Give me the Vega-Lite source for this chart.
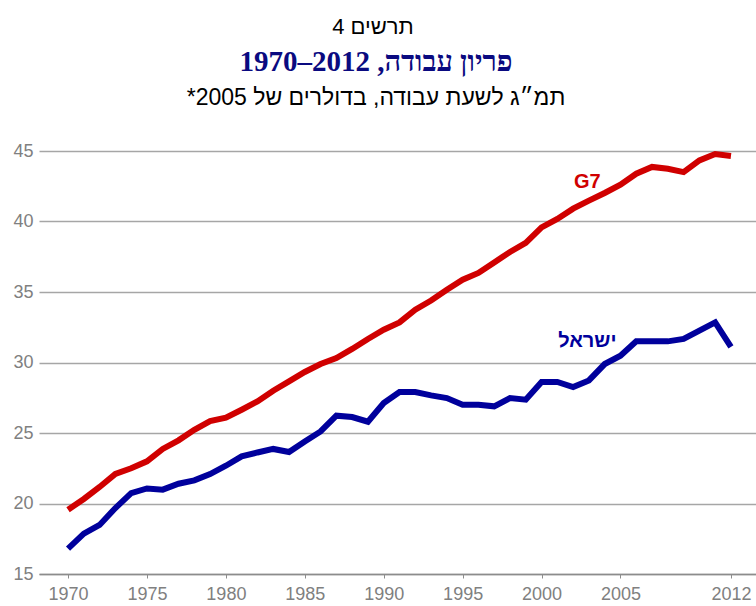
{
  "$schema": "https://vega.github.io/schema/vega-lite/v6.json",
  "padding": {"left": 12, "right": 0, "top": 15, "bottom": 0},
  "background": "white",
  "title": {
    "text": "תרשים 4",
    "font": "Liberation Sans",
    "fontSize": 22,
    "fontWeight": "normal",
    "color": "#000000",
    "anchor": "middle",
    "offset": 9,
    "dx": -12
  },
  "config": {"view": {"stroke": null}, "concat": {"spacing": 0}},
  "vconcat": [
    {
      "width": 718,
      "height": 423,
      "title": {
        "text": "פריון עבודה, 2012–1970",
        "font": "Liberation Serif",
        "fontSize": 29,
        "fontWeight": "bold",
        "color": "#0a0a80",
        "subtitle": "תמ״ג לשעת עבודה, בדולרים של 2005*‏",
        "subtitleFont": "Liberation Sans",
        "subtitleFontSize": 23,
        "subtitleColor": "#000000",
        "subtitlePadding": 10,
        "anchor": "middle",
        "frame": "bounds",
        "offset": 32,
        "dx": -9
      },
      "layer": [
        {
          "data": {
            "values": [
              {"year": 1970, "series": "G7", "value": 19.56},
              {"year": 1971, "series": "G7", "value": 20.32},
              {"year": 1972, "series": "G7", "value": 21.17},
              {"year": 1973, "series": "G7", "value": 22.1},
              {"year": 1974, "series": "G7", "value": 22.5},
              {"year": 1975, "series": "G7", "value": 22.99},
              {"year": 1976, "series": "G7", "value": 23.87},
              {"year": 1977, "series": "G7", "value": 24.48},
              {"year": 1978, "series": "G7", "value": 25.23},
              {"year": 1979, "series": "G7", "value": 25.85},
              {"year": 1980, "series": "G7", "value": 26.09},
              {"year": 1981, "series": "G7", "value": 26.65},
              {"year": 1982, "series": "G7", "value": 27.24},
              {"year": 1983, "series": "G7", "value": 28.0},
              {"year": 1984, "series": "G7", "value": 28.66},
              {"year": 1985, "series": "G7", "value": 29.33},
              {"year": 1986, "series": "G7", "value": 29.89},
              {"year": 1987, "series": "G7", "value": 30.32},
              {"year": 1988, "series": "G7", "value": 30.96},
              {"year": 1989, "series": "G7", "value": 31.67},
              {"year": 1990, "series": "G7", "value": 32.33},
              {"year": 1991, "series": "G7", "value": 32.84},
              {"year": 1992, "series": "G7", "value": 33.74},
              {"year": 1993, "series": "G7", "value": 34.4},
              {"year": 1994, "series": "G7", "value": 35.16},
              {"year": 1995, "series": "G7", "value": 35.87},
              {"year": 1996, "series": "G7", "value": 36.35},
              {"year": 1997, "series": "G7", "value": 37.1},
              {"year": 1998, "series": "G7", "value": 37.84},
              {"year": 1999, "series": "G7", "value": 38.48},
              {"year": 2000, "series": "G7", "value": 39.58},
              {"year": 2001, "series": "G7", "value": 40.18},
              {"year": 2002, "series": "G7", "value": 40.91},
              {"year": 2003, "series": "G7", "value": 41.48},
              {"year": 2004, "series": "G7", "value": 42.02},
              {"year": 2005, "series": "G7", "value": 42.61},
              {"year": 2006, "series": "G7", "value": 43.39},
              {"year": 2007, "series": "G7", "value": 43.87},
              {"year": 2008, "series": "G7", "value": 43.74},
              {"year": 2009, "series": "G7", "value": 43.5},
              {"year": 2010, "series": "G7", "value": 44.33},
              {"year": 2011, "series": "G7", "value": 44.79},
              {"year": 2012, "series": "G7", "value": 44.65},
              {"year": 1970, "series": "ישראל", "value": 16.8},
              {"year": 1971, "series": "ישראל", "value": 17.86},
              {"year": 1972, "series": "ישראל", "value": 18.48},
              {"year": 1973, "series": "ישראל", "value": 19.68},
              {"year": 1974, "series": "ישראל", "value": 20.74},
              {"year": 1975, "series": "ישראל", "value": 21.07},
              {"year": 1976, "series": "ישראל", "value": 20.98},
              {"year": 1977, "series": "ישראל", "value": 21.4},
              {"year": 1978, "series": "ישראל", "value": 21.64},
              {"year": 1979, "series": "ישראל", "value": 22.09},
              {"year": 1980, "series": "ישראל", "value": 22.68},
              {"year": 1981, "series": "ישראל", "value": 23.34},
              {"year": 1982, "series": "ישראל", "value": 23.62},
              {"year": 1983, "series": "ישראל", "value": 23.87},
              {"year": 1984, "series": "ישראל", "value": 23.65},
              {"year": 1985, "series": "ישראל", "value": 24.4},
              {"year": 1986, "series": "ישראל", "value": 25.11},
              {"year": 1987, "series": "ישראל", "value": 26.23},
              {"year": 1988, "series": "ישראל", "value": 26.13},
              {"year": 1989, "series": "ישראל", "value": 25.8},
              {"year": 1990, "series": "ישראל", "value": 27.13},
              {"year": 1991, "series": "ישראל", "value": 27.91},
              {"year": 1992, "series": "ישראל", "value": 27.91},
              {"year": 1993, "series": "ישראל", "value": 27.67},
              {"year": 1994, "series": "ישראל", "value": 27.48},
              {"year": 1995, "series": "ישראל", "value": 27.01},
              {"year": 1996, "series": "ישראל", "value": 27.01},
              {"year": 1997, "series": "ישראל", "value": 26.89},
              {"year": 1998, "series": "ישראל", "value": 27.48},
              {"year": 1999, "series": "ישראל", "value": 27.36},
              {"year": 2000, "series": "ישראל", "value": 28.62},
              {"year": 2001, "series": "ישראל", "value": 28.62},
              {"year": 2002, "series": "ישראל", "value": 28.26},
              {"year": 2003, "series": "ישראל", "value": 28.73},
              {"year": 2004, "series": "ישראל", "value": 29.89},
              {"year": 2005, "series": "ישראל", "value": 30.48},
              {"year": 2006, "series": "ישראל", "value": 31.5},
              {"year": 2007, "series": "ישראל", "value": 31.5},
              {"year": 2008, "series": "ישראל", "value": 31.5},
              {"year": 2009, "series": "ישראל", "value": 31.67},
              {"year": 2010, "series": "ישראל", "value": 32.26},
              {"year": 2011, "series": "ישראל", "value": 32.84},
              {"year": 2012, "series": "ישראל", "value": 31.1}
            ]
          },
          "mark": {"type": "line", "strokeWidth": 6, "strokeJoin": "miter", "strokeCap": "butt"},
          "encoding": {
            "x": {
              "field": "year",
              "type": "quantitative",
              "scale": {"domain": [1968.16, 2013.65], "nice": false, "zero": false},
              "axis": {
                "title": null,
                "values": [1970, 1975, 1980, 1985, 1990, 1995, 2000, 2005, 2012],
                "format": "d",
                "grid": false,
                "domain": true,
                "domainColor": "#8c8c8c",
                "domainWidth": 1.5,
                "ticks": true,
                "tickSize": 4,
                "tickColor": "#8c8c8c",
                "tickWidth": 1,
                "labelColor": "#808080",
                "labelFont": "Liberation Sans",
                "labelFontSize": 18,
                "labelPadding": 7,
                "labelFlush": false,
                "labelOverlap": false
              }
            },
            "y": {
              "field": "value",
              "type": "quantitative",
              "scale": {"domain": [15, 45], "nice": false, "zero": false},
              "axis": {
                "title": null,
                "values": [15, 20, 25, 30, 35, 40, 45],
                "grid": true,
                "gridColor": "#a6a6a6",
                "gridWidth": 1.3,
                "domain": false,
                "ticks": false,
                "labelColor": "#808080",
                "labelFont": "Liberation Sans",
                "labelFontSize": 18,
                "labelPadding": 6,
                "labelFlush": false,
                "labelOverlap": false
              }
            },
            "color": {
              "field": "series",
              "type": "nominal",
              "scale": {"domain": ["G7", "ישראל"], "range": ["#d00000", "#00009c"]},
              "legend": null
            }
          }
        },
        {
          "data": {
            "values": [
              {"year": 2002.9, "value": 42.8, "label": "G7"},
              {"year": 2002.9, "value": 31.55, "label": "ישראל"}
            ]
          },
          "mark": {"type": "text", "font": "Liberation Sans", "fontSize": 20, "fontWeight": "bold", "align": "center", "baseline": "middle"},
          "encoding": {
            "x": {"field": "year", "type": "quantitative"},
            "y": {"field": "value", "type": "quantitative"},
            "text": {"field": "label", "type": "nominal"},
            "color": {"field": "label", "type": "nominal", "scale": {"domain": ["G7", "ישראל"], "range": ["#d00000", "#00009c"]}, "legend": null}
          }
        }
      ]
    }
  ]
}
